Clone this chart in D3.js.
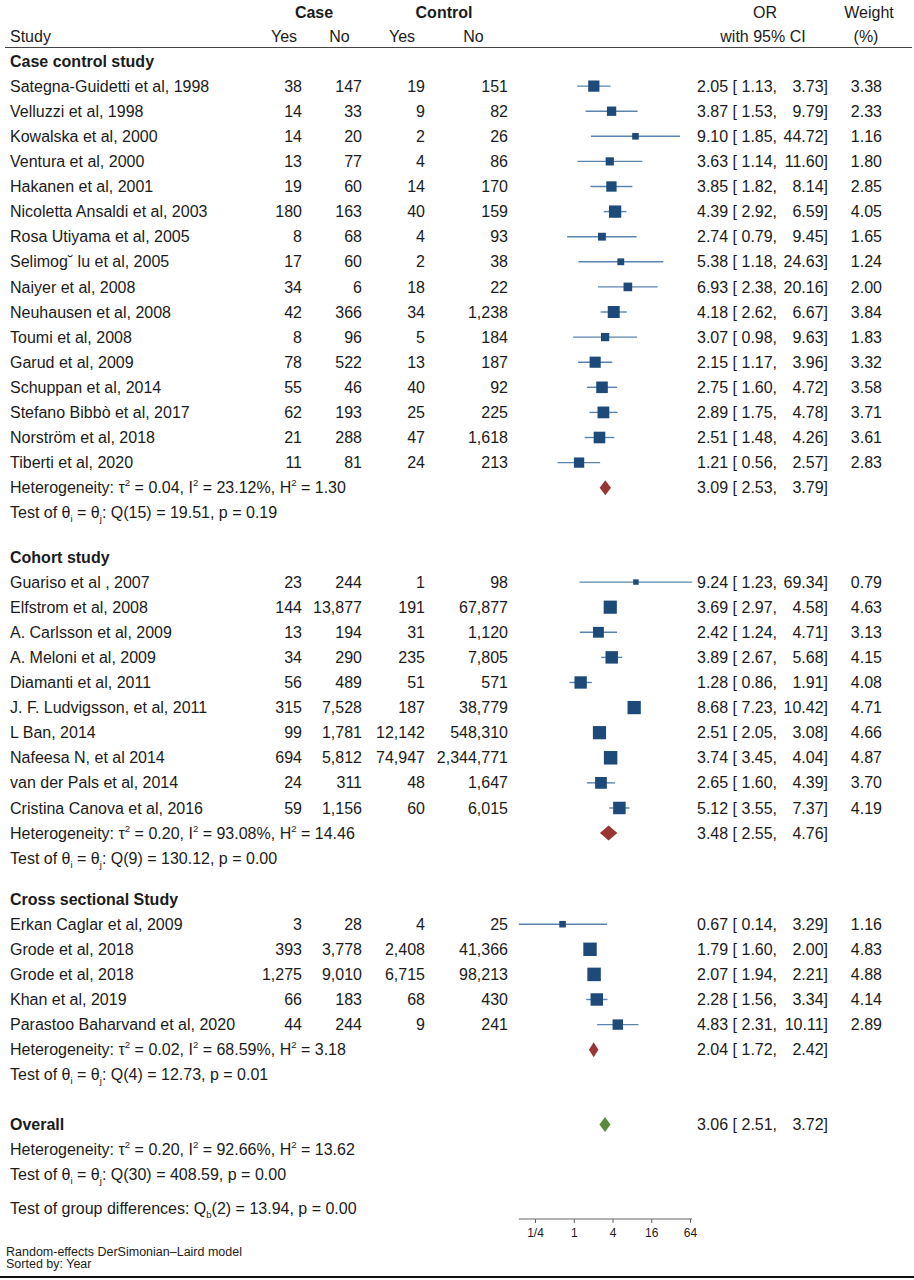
<!DOCTYPE html>
<html>
<head>
<meta charset="utf-8">
<script src="https://cdn.jsdelivr.net/npm/d3@7"></script>
<style>
  body { margin: 0; background: #fff; }
  svg { display: block; font-family: "Liberation Sans", Arial, sans-serif; }
</style>
</head>
<body>
<svg id="forest"></svg>
<script>
const width = 914
const height = 1280

// study rows: name, case yes, case no, control yes, control no, OR, lower, upper, weight
const caseControl = [
  ['Sategna-Guidetti et al, 1998', 38, 147, 19, 151, 2.05, 1.13, 3.73, 3.38],
  ['Velluzzi et al, 1998', 14, 33, 9, 82, 3.87, 1.53, 9.79, 2.33],
  ['Kowalska et al, 2000', 14, 20, 2, 26, 9.10, 1.85, 44.72, 1.16],
  ['Ventura et al, 2000', 13, 77, 4, 86, 3.63, 1.14, 11.60, 1.80],
  ['Hakanen et al, 2001', 19, 60, 14, 170, 3.85, 1.82, 8.14, 2.85],
  ['Nicoletta Ansaldi et al, 2003', 180, 163, 40, 159, 4.39, 2.92, 6.59, 4.05],
  ['Rosa Utiyama et al, 2005', 8, 68, 4, 93, 2.74, 0.79, 9.45, 1.65],
  ['Selimog\u02D8 lu et al, 2005', 17, 60, 2, 38, 5.38, 1.18, 24.63, 1.24],
  ['Naiyer et al, 2008', 34, 6, 18, 22, 6.93, 2.38, 20.16, 2.00],
  ['Neuhausen et al, 2008', 42, 366, 34, 1238, 4.18, 2.62, 6.67, 3.84],
  ['Toumi et al, 2008', 8, 96, 5, 184, 3.07, 0.98, 9.63, 1.83],
  ['Garud et al, 2009', 78, 522, 13, 187, 2.15, 1.17, 3.96, 3.32],
  ['Schuppan et al, 2014', 55, 46, 40, 92, 2.75, 1.60, 4.72, 3.58],
  ['Stefano Bibbò et al, 2017', 62, 193, 25, 225, 2.89, 1.75, 4.78, 3.71],
  ['Norström et al, 2018', 21, 288, 47, 1618, 2.51, 1.48, 4.26, 3.61],
  ['Tiberti et al, 2020', 11, 81, 24, 213, 1.21, 0.56, 2.57, 2.83]
]

const cohort = [
  ['Guariso et al , 2007', 23, 244, 1, 98, 9.24, 1.23, 69.34, 0.79],
  ['Elfstrom et al, 2008', 144, 13877, 191, 67877, 3.69, 2.97, 4.58, 4.63],
  ['A. Carlsson et al, 2009', 13, 194, 31, 1120, 2.42, 1.24, 4.71, 3.13],
  ['A. Meloni et al, 2009', 34, 290, 235, 7805, 3.89, 2.67, 5.68, 4.15],
  ['Diamanti et al, 2011', 56, 489, 51, 571, 1.28, 0.86, 1.91, 4.08],
  ['J. F. Ludvigsson, et al, 2011', 315, 7528, 187, 38779, 8.68, 7.23, 10.42, 4.71],
  ['L Ban, 2014', 99, 1781, 12142, 548310, 2.51, 2.05, 3.08, 4.66],
  ['Nafeesa N, et al 2014', 694, 5812, 74947, 2344771, 3.74, 3.45, 4.04, 4.87],
  ['van der Pals et al, 2014', 24, 311, 48, 1647, 2.65, 1.60, 4.39, 3.70],
  ['Cristina Canova et al, 2016', 59, 1156, 60, 6015, 5.12, 3.55, 7.37, 4.19]
]

const crossSectional = [
  ['Erkan Caglar et al, 2009', 3, 28, 4, 25, 0.67, 0.14, 3.29, 1.16],
  ['Grode et al, 2018', 393, 3778, 2408, 41366, 1.79, 1.60, 2.00, 4.83],
  ['Grode et al, 2018', 1275, 9010, 6715, 98213, 2.07, 1.94, 2.21, 4.88],
  ['Khan et al, 2019', 66, 183, 68, 430, 2.28, 1.56, 3.34, 4.14],
  ['Parastoo Baharvand et al, 2020', 44, 244, 9, 241, 4.83, 2.31, 10.11, 2.89]
]

const groupNames = ['Case control study', 'Cohort study', 'Cross sectional Study']
// pooled OR, lower, upper per group
const groupPooled = [[3.09, 2.53, 3.79], [3.48, 2.55, 4.76], [2.04, 1.72, 2.42]]
// tau2, I2, H2
const groupHet = [['0.04', '23.12', '1.30'], ['0.20', '93.08', '14.46'], ['0.02', '68.59', '3.18']]
// df, Q, p
const groupTest = [[15, '19.51', '0.19'], [9, '130.12', '0.00'], [4, '12.73', '0.01']]

const overallPooled = [3.06, 2.51, 3.72]
const overallHet = ['0.20', '92.66', '13.62']
const overallTest = [30, '408.59', '0.00']
const groupDiff = [2, '13.94', '0.00']

const axisTicks = [0.25, 1, 4, 16, 64]
const axisTickLabels = ['1/4', '1', '4', '16', '64']

const footnotes = ['Random-effects DerSimonian\u2013Laird model', 'Sorted by: Year']

// layout
const textColor = '#1b1b1b'
const lineColor = '#5a84ae'
const boxColor = '#1d4a78'
const groupDiamond = '#9a3535'
const overallDiamond = '#5d8a3a'
const fs = 16

const svg = d3.select('#forest')
  .attr('width', width)
  .attr('height', height)
  .attr('viewBox', [0, 0, width, height])

const allCI = [...caseControl, ...cohort, ...crossSectional]
const x = d3.scaleLog().base(2)
  .domain([0.25, 64])
  .range([535, 690])

// slot -> y
const y = d3.scaleLinear().domain([0, 1]).range([61, 86.1])
const gapsBefore = [0, 0.76, 0.63]

// build row list
const rows = []
let slot = 0
const groups = [caseControl, cohort, crossSectional]
groups.forEach((g, gi) => {
  slot += gapsBefore[gi]
  rows.push({ kind: 'label', text: groupNames[gi], slot: slot++ })
  g.forEach((d) => rows.push({ kind: 'study', d, slot: slot++ }))
  rows.push({ kind: 'het', h: groupHet[gi], pooled: groupPooled[gi], color: groupDiamond, slot: slot++ })
  rows.push({ kind: 'test', t: groupTest[gi], slot: slot++ })
})
slot += 0.98
rows.push({ kind: 'label', text: 'Overall', pooled: overallPooled, color: overallDiamond, slot: slot++ })
rows.push({ kind: 'het', h: overallHet, slot: slot++ })
rows.push({ kind: 'test', t: overallTest, slot: slot++ })
slot += 0.33
rows.push({ kind: 'diff', t: groupDiff, slot: slot++ })

const fmtN = d3.format(',')
const f2 = (v) => v.toFixed(2)

const txt = (sel, xx, yy, anchor) => sel.append('text')
  .attr('x', xx)
  .attr('y', yy)
  .attr('dy', '0.35em')
  .attr('text-anchor', anchor || 'start')
  .attr('font-size', fs)
  .attr('fill', textColor)

// header
const hdr = svg.append('g')
txt(hdr, 314, 12, 'middle').attr('font-weight', 'bold').text('Case')
txt(hdr, 444, 12, 'middle').attr('font-weight', 'bold').text('Control')
txt(hdr, 765, 12, 'middle').text('OR')
txt(hdr, 869, 12, 'middle').text('Weight')
txt(hdr, 10, 36).text('Study')
txt(hdr, 284, 36, 'middle').text('Yes')
txt(hdr, 339.5, 36, 'middle').text('No')
txt(hdr, 402, 36, 'middle').text('Yes')
txt(hdr, 473.5, 36, 'middle').text('No')
txt(hdr, 763, 36, 'middle').text('with 95% CI')
txt(hdr, 866, 36, 'middle').text('(%)')

svg.append('line')
  .attr('x1', 5).attr('x2', 912)
  .attr('y1', 47.5).attr('y2', 47.5)
  .attr('stroke', '#444').attr('stroke-width', 1.2)

const numCols = [302, 362, 425, 508]
const size = d3.scaleSqrt().domain([0, 4.88]).range([0, 13.5])

const diamond = (g, p, yy, color) => {
  const h = 7.5
  g.append('path')
    .attr('d', `M${x(p[1])},${yy} L${x(p[0])},${yy - h} L${x(p[2])},${yy} L${x(p[0])},${yy + h} Z`)
    .attr('fill', color)
}

const ciText = (g, p, yy) => {
  txt(g, 697, yy).text(`${f2(p[0])} [ ${f2(p[1])},`)
  txt(g, 828, yy, 'end').text(`${f2(p[2])}]`)
}

// parts: [string, kind]; shifts in px so they cancel out exactly
const shift = { sup: -7, back: 7, sub: 4, backsub: -4 }
const richText = (t, parts) => {
  parts.forEach(([s, k]) => {
    const ts = t.append('tspan').text(s)
    if (k) ts.attr('dy', shift[k])
    if (k === 'sup' || k === 'sub') ts.attr('font-size', fs * 0.6)
  })
}

rows.forEach((r) => {
  const yy = y(r.slot)
  const g = svg.append('g')
  if (r.kind === 'label') {
    txt(g, 10, yy).attr('font-weight', 'bold').text(r.text)
    if (r.pooled) {
      diamond(g, r.pooled, yy, r.color)
      ciText(g, r.pooled, yy)
    }
  } else if (r.kind === 'study') {
    const d = r.d
    txt(g, 10, yy).text(d[0])
    numCols.forEach((cx, i) => txt(g, cx, yy, 'end').text(fmtN(d[i + 1])))
    g.append('line')
      .attr('x1', x(d[6])).attr('x2', x(d[7]))
      .attr('y1', yy).attr('y2', yy)
      .attr('stroke', lineColor).attr('stroke-width', 1.4)
    const s = size(d[8])
    g.append('rect')
      .attr('x', x(d[5]) - s / 2).attr('y', yy - s / 2)
      .attr('width', s).attr('height', s)
      .attr('fill', boxColor)
    ciText(g, [d[5], d[6], d[7]], yy)
    txt(g, 882, yy, 'end').text(f2(d[8]))
  } else if (r.kind === 'het') {
    const t = txt(g, 10, yy)
    richText(t, [
      ['Heterogeneity: \u03C4', null], ['2', 'sup'], [` = ${r.h[0]}, I`, 'back'],
      ['2', 'sup'], [` = ${r.h[1]}%, H`, 'back'], ['2', 'sup'], [` = ${r.h[2]}`, 'back']
    ])
    if (r.pooled) {
      diamond(g, r.pooled, yy, r.color)
      ciText(g, r.pooled, yy)
    }
  } else if (r.kind === 'test') {
    const t = txt(g, 10, yy)
    richText(t, [
      ['Test of \u03B8', null], ['i', 'sub'], [' = \u03B8', 'backsub'], ['j', 'sub'],
      [`: Q(${r.t[0]}) = ${r.t[1]}, p = ${r.t[2]}`, 'backsub']
    ])
  } else if (r.kind === 'diff') {
    const t = txt(g, 10, yy)
    richText(t, [
      ['Test of group differences: Q', null], ['b', 'sub'],
      [`(${r.t[0]}) = ${r.t[1]}, p = ${r.t[2]}`, 'backsub']
    ])
  }
})

// x axis
const axisY = 1219
const ext = [d3.min(allCI, (d) => d[6]), d3.max(allCI, (d) => d[7])]
const axis = svg.append('g').attr('transform', `translate(0,${axisY})`)
axis.append('line')
  .attr('x1', x(ext[0])).attr('x2', x(ext[1]))
  .attr('stroke', '#666').attr('stroke-width', 1.2)
axis.call(d3.axisBottom(x).tickValues(axisTicks)
    .tickFormat((d, i) => axisTickLabels[i]).tickSize(4).tickPadding(5))
  .call((a) => a.select('.domain').remove())
  .call((a) => a.selectAll('.tick line').attr('stroke', '#666'))
  .call((a) => a.selectAll('.tick text')
    .attr('font-size', 12)
    .attr('font-family', '"Liberation Sans", Arial, sans-serif')
    .attr('fill', textColor))

// footnotes
footnotes.forEach((f, i) => {
  svg.append('text')
    .attr('x', 6).attr('y', 1252 + i * 12).attr('dy', '0.35em')
    .attr('font-size', 12.5).attr('fill', textColor)
    .text(f)
})

svg.append('line')
  .attr('x1', 0).attr('x2', width)
  .attr('y1', 1277).attr('y2', 1277)
  .attr('stroke', '#111').attr('stroke-width', 2)
</script>
</body>
</html>
